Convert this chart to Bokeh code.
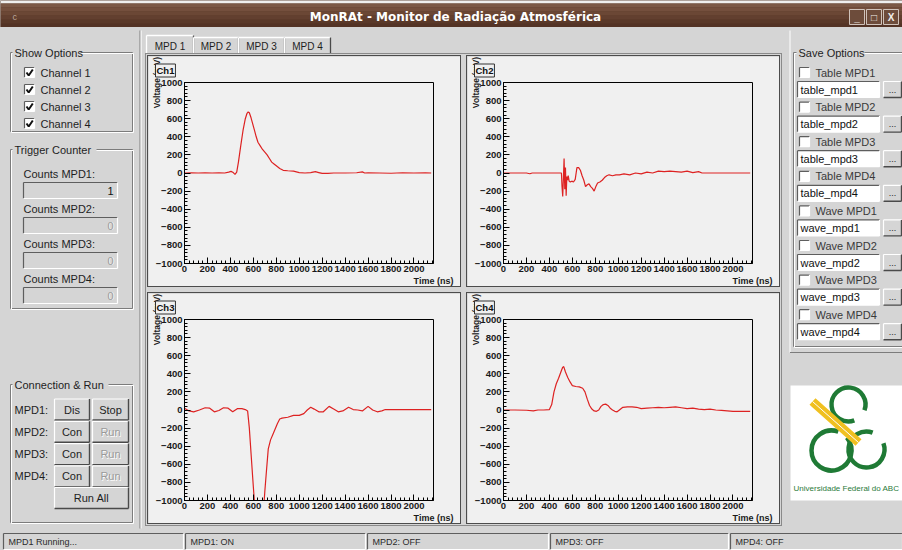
import math
from bokeh.plotting import figure
from bokeh.layouts import row, column
from bokeh.models import Range1d, SingleIntervalTicker, Title
from bokeh.core.properties import value
from bokeh.embed import file_html
from bokeh.resources import INLINE

# ---------------- waveform data (time in ns, voltage in mV) ----------------
t_ch1 = [0, 60, 120, 180, 240, 300, 350, 385, 405, 425, 440, 455, 470, 490, 510, 530, 545,
         555, 565, 580, 595, 610, 625, 640, 660, 680, 700, 720, 740, 760, 780, 800, 830, 860,
         900, 950, 1000, 1050, 1100, 1140, 1170, 1200, 1250, 1300, 1400, 1500, 1550, 1570,
         1600, 1700, 1800, 1850, 1900, 2000, 2100, 2150]
v_ch1 = [0, 2, 0, 3, 0, 2, 0, 10, 18, 5, -15, 10, 120, 300, 470, 600, 660,
         675, 665, 610, 540, 470, 400, 340, 300, 260, 230, 200, 160, 120, 100, 80, 50, 30,
         25, 20, 5, 0, 5, 15, 5, -5, -5, 0, 0, 3, 12, 0,
         2, 0, -3, 0, 3, 0, 2, 0]

t_ch2 = [0, 100, 200, 230, 250, 300, 400, 505, 510, 516, 522, 528, 534, 540, 546, 552, 558,
         564, 572, 582, 595, 610, 625, 640, 655, 670, 685, 700, 715, 730, 745, 760, 775, 790,
         805, 820, 840, 860, 880, 900, 920, 950, 980, 1010, 1050, 1100, 1150, 1200, 1250,
         1300, 1350, 1400, 1450, 1500, 1550, 1600, 1650, 1700, 1730, 1760, 1800, 2000, 2150]
v_ch2 = [0, 0, 0, -8, 0, 0, 0, 0, -150, -260, -60, 160, -180, 60, -250, -40, -80,
         -30, -90, -100, -90, -100, -70, 60, 60, 30, -30, -80, -150, -130, -120, -150, -170, -200,
         -150, -110, -100, -80, -50, -30, -20, -30, -20, -20, -10, -20, 0, -10, 10,
         0, 20, 15, 20, 15, 10, 20, 5, 15, 0, 0, 0, 0, 0]

t_ch3 = [0, 40, 80, 130, 180, 220, 260, 300, 340, 380, 420, 460, 500, 530, 550, 565, 580,
         595, 610, 630, 650, 670, 690, 700, 715, 730, 750, 770, 790, 810, 830, 850, 900, 950,
         1000, 1040, 1070, 1100, 1130, 1170, 1210, 1260, 1300, 1340, 1380, 1430, 1470, 1510,
         1550, 1600, 1640, 1680, 1720, 1750, 1800, 1900, 2000, 2150]
v_ch3 = [20, -10, -20, 0, 25, 20, -20, -5, 25, 20, -20, 15, 15, 5, -10, -200, -480,
         -760, -1030, -1250, -1320, -1260, -1080, -900, -660, -430, -330, -270, -210, -150, -100, -90, -80, -60,
         -60, -40, 0, 30, 10, -20, -20, 40, 10, -20, -10, 30, 5, 0,
         -10, 40, 0, -20, -10, 5, 5, 5, 5, 5]

t_ch4 = [0, 100, 200, 260, 300, 350, 400, 420, 440, 460, 480, 500, 515, 525, 540, 560, 580,
         600, 630, 660, 690, 710, 730, 750, 770, 790, 810, 830, 850, 870, 890, 910, 930, 950,
         970, 990, 1010, 1040, 1080, 1120, 1160, 1200, 1250, 1300, 1350, 1400, 1450, 1500,
         1550, 1600, 1650, 1700, 1750, 1800, 1850, 1900, 1950, 2000, 2050, 2150]
v_ch4 = [0, 0, -3, -10, 0, 0, 5, 60, 200, 290, 350, 420, 470, 480, 420, 360, 310,
         270, 260, 255, 240, 200, 120, 50, 10, -10, -15, 0, 40, 60, 65, 50, 20, 0,
         -15, -20, 0, 30, 35, 35, 30, 15, 20, 25, 30, 25, 30, 35,
         25, 15, 20, 10, 5, 10, 0, -5, -10, -15, -15, -15]

channels = ["Ch1", "Ch2", "Ch3", "Ch4"]
counts = ["1", "0", "0", "0"]
mpd_names = ["MPD1", "MPD2", "MPD3", "MPD4"]
status_texts = ["MPD1 Running...", "MPD1: ON", "MPD2: OFF", "MPD3: OFF", "MPD4: OFF"]
save_labels = ["Table MPD1", "Table MPD2", "Table MPD3", "Table MPD4",
               "Wave MPD1", "Wave MPD2", "Wave MPD3", "Wave MPD4"]
save_files = ["table_mpd1", "table_mpd2", "table_mpd3", "table_mpd4",
              "wave_mpd1", "wave_mpd2", "wave_mpd3", "wave_mpd4"]

# ---------------- styling ----------------
GUI_BG = "#d5d5d5"
CANVAS_BG = "#f0f0f0"
FONT = "Liberation Sans"
DARK = "#7c7c7c"
LIGHT = "#ffffff"
LINE_RED = "#dd2222"


def chrome_fig(w, h, x0, x1, y0, y1, bg=GUI_BG):
    p = figure(width=w, height=h, x_range=Range1d(x0, x1), y_range=Range1d(y1, y0),
               output_backend="svg", toolbar_location=None, min_border=0,
               x_axis_location=None, y_axis_location=None)
    p.grid.visible = False
    p.outline_line_color = None
    p.background_fill_color = bg
    p.border_fill_color = bg
    return p


def txt(p, x, y, s, size="11px", color="#1e1e1e", align="left", style="normal", font=FONT):
    p.text(x=[x], y=[y], text=[s], text_font=value(font), text_font_size=size,
           text_color=color, text_align=align, text_baseline="middle", text_font_style=style)


def etched_txt(p, x, y, s, size="11px", align="left"):
    txt(p, x + 0.8, y + 0.8, s, size=size, color=LIGHT, align=align)
    txt(p, x, y, s, size=size, color="#9a9a9a", align=align)


def group(p, x0, y0, x1, y1, title, tx, tw):
    p.quad(left=x0, right=x1, top=y0, bottom=y1, fill_color=None, line_color=DARK)
    p.quad(left=x0 + 1, right=x1 + 1, top=y0 + 1, bottom=y1 + 1, fill_color=None, line_color=LIGHT)
    p.quad(left=tx - 2, right=tx + tw + 2, top=y0 - 6, bottom=y0 + 6, fill_color=GUI_BG, line_color=None)
    txt(p, tx, y0, title)


def sunken(p, x0, y0, x1, y1, fill):
    p.quad(left=x0, right=x1, top=y0, bottom=y1, fill_color=fill, line_color=None)
    p.segment(x0=[x0, x0], y0=[y0, y0], x1=[x1, x0], y1=[y0, y1], line_color="#5e5e5e", line_width=1.2)
    p.segment(x0=[x0, x1], y0=[y1, y0], x1=[x1, x1], y1=[y1, y1], line_color=LIGHT, line_width=1.2)


def raised(p, x0, y0, x1, y1):
    p.quad(left=x0, right=x1, top=y0, bottom=y1, fill_color=GUI_BG, line_color=None)
    p.segment(x0=[x0, x0], y0=[y0, y0], x1=[x1, x0], y1=[y0, y1], line_color=LIGHT, line_width=1.2)
    p.segment(x0=[x0, x1], y0=[y1, y0], x1=[x1, x1], y1=[y1, y1], line_color="#4a4a4a", line_width=1.4)


def checkbox(p, x, y, checked):
    sunken(p, x, y - 5, x + 10, y + 5, "white")
    if checked:
        p.line(x=[x + 2, x + 4.2, x + 8.3], y=[y, y + 3, y - 3], line_color="#111111", line_width=2)


# ---------------- title bar ----------------
title_fig = chrome_fig(902, 27, 0, 902, 0, 27, bg="#5a3b2b")
title_fig.quad(left=0, right=902, top=0, bottom=3, fill_color="#efefef", line_color=None)
bands = ["#7b5846", "#744f3d", "#6b4735", "#623f2f", "#5a3929", "#533325"]
for i, c in enumerate(bands):
    title_fig.quad(left=0, right=902, top=3 + i * 4, bottom=3 + (i + 1) * 4, fill_color=c, line_color=None)
txt(title_fig, 455, 16, "MonRAt - Monitor de Radiação Atmosférica", size="12px", color="white",
    align="center", style="bold", font="DejaVu Sans")
for bx, sym in zip([849, 866, 883], ["_", "□", "X"]):
    title_fig.quad(left=bx, right=bx + 15, top=9, bottom=24, fill_color="#6d4c3b", line_color="#cfc2ba")
    txt(title_fig, bx + 7.5, 16.5, sym, size="10px", color="#f2eeea", align="center", style="bold")
txt(title_fig, 12, 16, "c", size="9px", color="#b9a69b")

# ---------------- left panel ----------------
left = chrome_fig(143, 505, 0, 143, 27, 532)
left.segment(x0=[139.5], y0=[30], x1=[139.5], y1=[528], line_color=DARK)
left.segment(x0=[140.6], y0=[30], x1=[140.6], y1=[528], line_color=LIGHT)
group(left, 10, 52, 132, 131, "Show Options", 14, 64)
for i in range(4):
    yy = 72 + i * 17
    checkbox(left, 24, yy, True)
    txt(left, 40, yy, "Channel %d" % (i + 1))
group(left, 10, 149, 132, 308, "Trigger Counter", 14, 80)
for i in range(4):
    ly = 173 + i * 35
    txt(left, 23, ly, "Counts %s:" % mpd_names[i])
    sunken(left, 23, ly + 9, 117, ly + 25, GUI_BG)
    if i == 0:
        txt(left, 113, ly + 17, counts[i], color="#111111", align="right")
    else:
        etched_txt(left, 113, ly + 17, counts[i], align="right")
group(left, 10, 384, 132, 522, "Connection & Run", 14, 92)
btn_left = ["Dis", "Con", "Con", "Con"]
btn_right = ["Stop", "Run", "Run", "Run"]
for i in range(4):
    yy = 409 + i * 22.3
    txt(left, 14, yy, mpd_names[i] + ":")
    raised(left, 54, yy - 10.5, 89, yy + 10.5)
    txt(left, 71.5, yy, btn_left[i], align="center")
    raised(left, 92, yy - 10.5, 128, yy + 10.5)
    if i == 0:
        txt(left, 110, yy, btn_right[i], align="center")
    else:
        etched_txt(left, 110, yy, btn_right[i], align="center")
raised(left, 54, 487, 128, 508)
txt(left, 91, 497.5, "Run All", align="center")

# ---------------- right panel ----------------
right = chrome_fig(114, 505, 788, 902, 27, 532)
right.segment(x0=[789.5], y0=[30], x1=[789.5], y1=[352], line_color=LIGHT)
right.segment(x0=[789.5], y0=[352], x1=[902], y1=[352], line_color=DARK)
group(right, 793, 52, 910, 346, "Save Options", 798, 64)
for i in range(8):
    ly = 72 + i * 34.6
    checkbox(right, 799, ly, False)
    txt(right, 815, ly, save_labels[i], color="#3a3a3a")
    sunken(right, 797, ly + 9, 879, ly + 25, "white")
    txt(right, 800, ly + 17, save_files[i], color="#111111")
    raised(right, 883, ly + 9, 901, ly + 25)
    txt(right, 892, ly + 17, "...", align="center", size="9px")
# logo
right.quad(left=790, right=902, top=385, bottom=500, fill_color="white", line_color=None)
GREEN = "#1f7a35"
right.arc(x=[848], y=[404], radius=17, start_angle=math.radians(-20), end_angle=math.radians(290),
          line_color=GREEN, line_width=4.5)
right.arc(x=[831], y=[450], radius=20, start_angle=math.radians(70), end_angle=math.radians(400),
          line_color=GREEN, line_width=4.5)
right.arc(x=[866], y=[449], radius=18, start_angle=math.radians(70), end_angle=math.radians(380),
          line_color=GREEN, line_width=4.5)
right.line(x=[812, 858], y=[401, 442], line_color="#f0c020", line_width=9)
right.line(x=[812, 858], y=[401, 442], line_color="white", line_width=1)
txt(right, 846, 488, "Universidade Federal do ABC", size="8px", color="#2a7a3a", align="center")

# ---------------- tabs ----------------
tabs = chrome_fig(645, 26, 143, 788, 27, 53)
tab_x = [(146, 193), (193, 238), (238, 284), (284, 330)]
for i, (a, b) in enumerate(tab_x):
    top = 35 if i == 0 else 37
    tabs.segment(x0=[a, a], y0=[53, top], x1=[a, b], y1=[top, top], line_color=LIGHT, line_width=1.3)
    tabs.segment(x0=[b], y0=[top], x1=[b], y1=[53], line_color="#4a4a4a", line_width=1.3)
    txt(tabs, (a + b) / 2, 45.5, "MPD %d" % (i + 1), size="10px", align="center")


# ---------------- waveform canvases ----------------
def wave_fig(name, t, v):
    p = figure(width=314, height=232, x_range=Range1d(0, 2170), y_range=Range1d(-1000, 1000),
               output_backend="svg", toolbar_location=None,
               min_border_left=32, min_border_right=29, min_border_top=24, min_border_bottom=21,
               styles={"border": "1px solid #4c4c4c"})
    p.background_fill_color = CANVAS_BG
    p.border_fill_color = CANVAS_BG
    p.grid.visible = False
    p.outline_line_color = "black"
    p.line(t, v, line_color=LINE_RED, line_width=1.2)
    p.xaxis.ticker = SingleIntervalTicker(interval=200, num_minor_ticks=5)
    p.yaxis.ticker = SingleIntervalTicker(interval=200, num_minor_ticks=5)
    for ax in (p.xaxis[0], p.yaxis[0]):
        ax.major_tick_in = 6
        ax.major_tick_out = 0
        ax.minor_tick_in = 3
        ax.minor_tick_out = 0
        ax.major_label_text_font = FONT
        ax.major_label_text_font_size = "9.5px"
        ax.major_label_text_font_style = "bold"
        ax.major_label_text_color = "#1a1a1a"
        ax.major_label_standoff = 2
        ax.axis_line_color = "black"
        ax.major_tick_line_color = "black"
        ax.minor_tick_line_color = "black"
        ax.axis_label_text_font = FONT
        ax.axis_label_text_font_style = "bold"
        ax.axis_label_text_color = "#1a1a1a"
        ax.axis_label_align = "end"
    p.xaxis.axis_label = "Time (ns)"
    p.xaxis.axis_label_text_font_size = "9px"
    p.xaxis.axis_label_standoff = 1
    p.yaxis.axis_label = "Voltage (mV)"
    p.yaxis.axis_label_text_font_size = "8.5px"
    p.yaxis.axis_label_standoff = -9
    p.add_layout(Title(text=name, align="left", offset=-29, standoff=11, text_font=FONT,
                       text_font_size="9.5px", text_font_style="bold", text_color="#111111",
                       background_fill_color=CANVAS_BG, border_line_color="#333333", padding=1),
                 "above")
    return p


c1 = wave_fig(channels[0], t_ch1, v_ch1)
c2 = wave_fig(channels[1], t_ch2, v_ch2)
c3 = wave_fig(channels[2], t_ch3, v_ch3)
c4 = wave_fig(channels[3], t_ch4, v_ch4)

grid = column(row(c1, c2, spacing=5), row(c3, c4, spacing=5), spacing=5,
              margin=(0, 2, 2, 2),
              styles={"border": "1px solid #8a8a8a", "padding": "1px", "background-color": GUI_BG})
center = column(tabs, grid, spacing=0, styles={"background-color": GUI_BG})

body = row(left, center, right, spacing=0, styles={"background-color": GUI_BG})

# ---------------- status bar ----------------
status = chrome_fig(902, 18, 0, 902, 532, 550)
sections = [(3, 183), (185, 365), (367, 548), (550, 728), (730, 902)]
for (a, b), s in zip(sections, status_texts):
    sunken(status, a, 533, b, 549, GUI_BG)
    txt(status, a + 5, 541.5, s, size="9px", color="#2a2a2a")

page = column(title_fig, body, status, spacing=0, styles={"background-color": GUI_BG})

open("out.html", "w").write(file_html(page, INLINE))
